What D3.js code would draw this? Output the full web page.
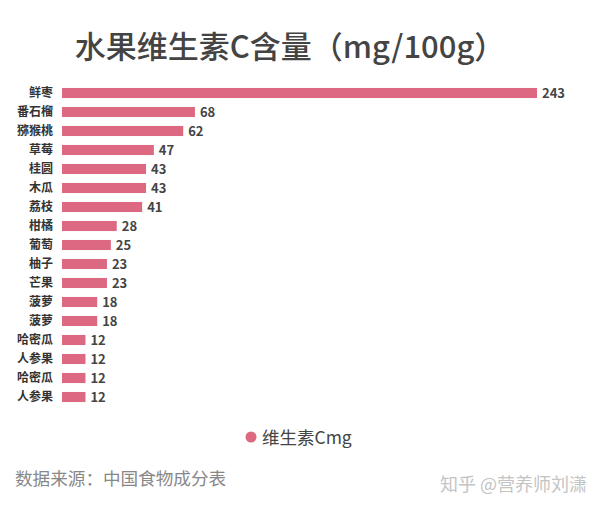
<!DOCTYPE html>
<html><head><meta charset="utf-8">
<script src="https://cdn.jsdelivr.net/npm/d3@7"></script>
<style>body{margin:0;background:#fff;}svg{display:block;font-family:"Noto Sans CJK SC","Noto Sans",sans-serif;}</style>
</head><body>
<script>
const categories = ["鲜枣","番石榴","猕猴桃","草莓","桂圆","木瓜","荔枝","柑橘","葡萄","柚子","芒果","菠萝","菠萝","哈密瓜","人参果","哈密瓜","人参果"];
const values = [243,68,62,47,43,43,41,28,25,23,23,18,18,12,12,12,12];
const seriesName = "维生素Cmg";
const title = "水果维生素C含量（mg/100g）";
const source = "数据来源：中国食物成分表";
const watermark = "知乎 @营养师刘潇";

const W = 600, H = 509;
const svg = d3.select("body").append("svg").attr("width", W).attr("height", H);
const color = "#dc6882";

const x = d3.scaleLinear().domain([0, 243]).range([62, 537]);
const y = d3.scaleBand().domain(d3.range(categories.length)).range([83.5, 406.5]).paddingInner(0.47).paddingOuter(0.235);

svg.append("text").attr("x", 290).attr("y", 58).attr("text-anchor", "middle")
  .attr("font-size", 31).attr("font-weight", 500).attr("fill", "#444").text(title);

const g = svg.append("g");
g.selectAll("rect").data(values).join("rect")
  .attr("x", x(0)).attr("y", (d, i) => y(i))
  .attr("width", d => x(d) - x(0)).attr("height", y.bandwidth())
  .attr("fill", color);

g.selectAll("text.cat").data(categories).join("text").attr("class", "cat")
  .attr("x", 53).attr("y", (d, i) => y(i) + y.bandwidth() / 2).attr("dy", "0.36em")
  .attr("text-anchor", "end").attr("font-size", 12).attr("font-weight", "bold").attr("fill", "#333").text(d => d);

g.selectAll("text.val").data(values).join("text").attr("class", "val")
  .attr("x", d => x(d) + 5).attr("y", (d, i) => y(i) + y.bandwidth() / 2).attr("dy", "0.36em")
  .attr("font-size", 13).attr("font-weight", "bold").attr("fill", "#444").text(d => d);

svg.append("circle").attr("cx", 251).attr("cy", 437).attr("r", 5.5).attr("fill", color);
svg.append("text").attr("x", 262).attr("y", 443.5).attr("font-size", 17.5).attr("fill", "#444").text(seriesName);

svg.append("text").attr("x", 15).attr("y", 485).attr("font-size", 17.6).attr("fill", "#888").text(source);
svg.append("text").attr("x", 587).attr("y", 491).attr("text-anchor", "end").attr("font-size", 18).attr("fill", "#c4c4c4").text(watermark);
</script>
</body></html>
